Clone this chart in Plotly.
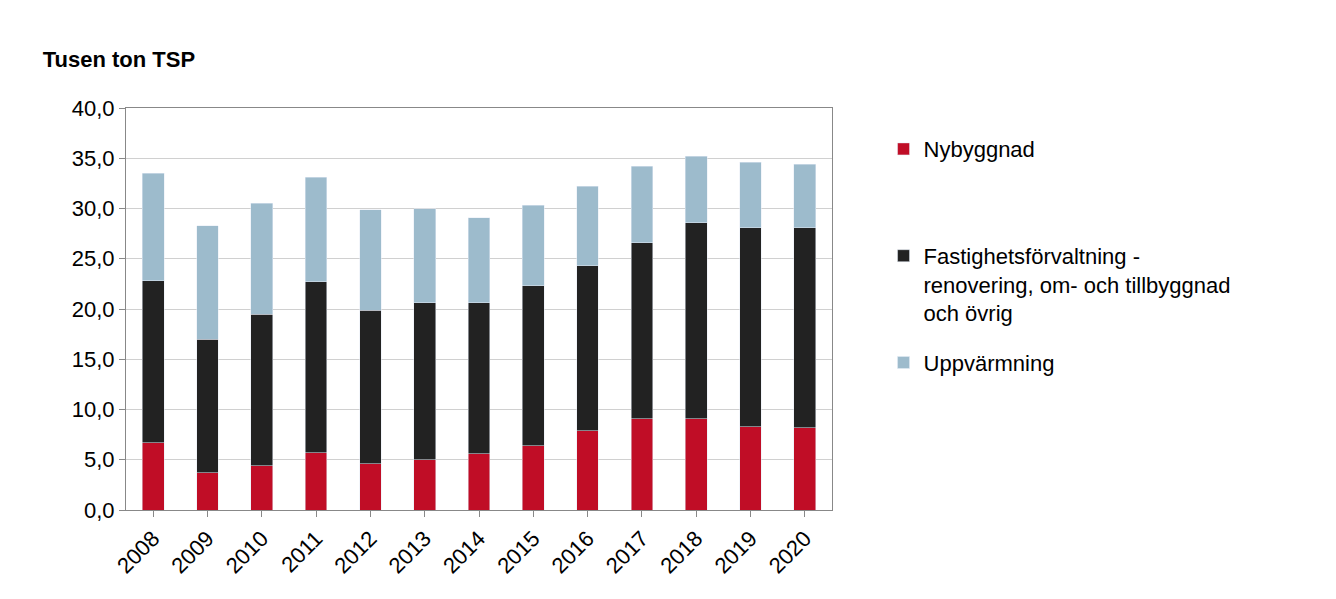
import plotly.graph_objects as go

years = ["2008","2009","2010","2011","2012","2013","2014","2015","2016","2017","2018","2019","2020"]
nybyggnad = [6.7,3.7,4.4,5.7,4.6,5.0,5.6,6.4,7.9,9.1,9.1,8.3,8.2]
forvaltning = [16.1,13.3,15.1,17.0,15.3,15.6,15.0,15.9,16.4,17.5,19.5,19.8,19.9]
uppvarmning = [10.7,11.3,11.0,10.4,10.0,9.4,8.5,8.0,7.9,7.6,6.6,6.5,6.3]

fig = go.Figure()
fig.add_bar(x=years, y=nybyggnad, name="Nybyggnad", marker_color="#c00d26", legendgroup="a")
fig.add_bar(x=years, y=forvaltning, name=" <br> <br>Fastighetsförvaltning -<br>renovering, om- och tillbyggnad<br>och övrig", marker_color="#222222", legendgroup="b")
fig.add_bar(x=years, y=uppvarmning, name="Uppvärmning", marker_color="#9dbbcc", legendgroup="c")

fig.update_layout(
    barmode="stack", bargap=0.6, width=1336, height=599,
    font=dict(family="Liberation Sans, Arial", size=22, color="black"),
    plot_bgcolor="white", paper_bgcolor="white",
    margin=dict(l=118, r=512, t=100, b=97),
    title=dict(text="<b>Tusen ton TSP</b>", x=0.026, xanchor="left", y=0.915, yanchor="middle", font=dict(size=22)),
    legend=dict(x=1.073, y=0.95, yanchor="top", traceorder="reversed+grouped", tracegroupgap=18, font=dict(size=22), itemwidth=30),
    showlegend=True,
)
fig.update_yaxes(range=[0,40], dtick=5, tickformat=".1f", showgrid=True, gridcolor="#d0d0d0",
                 showline=True, linecolor="#888", mirror=True, ticks="outside", tickcolor="#888", ticklen=6)
fig.update_xaxes(tickangle=-45, showline=True, linecolor="#888", mirror=True, ticks="outside", tickcolor="#888", ticklen=6)
fig.update_layout(separators=", ")
fig.write_html("out.html")
